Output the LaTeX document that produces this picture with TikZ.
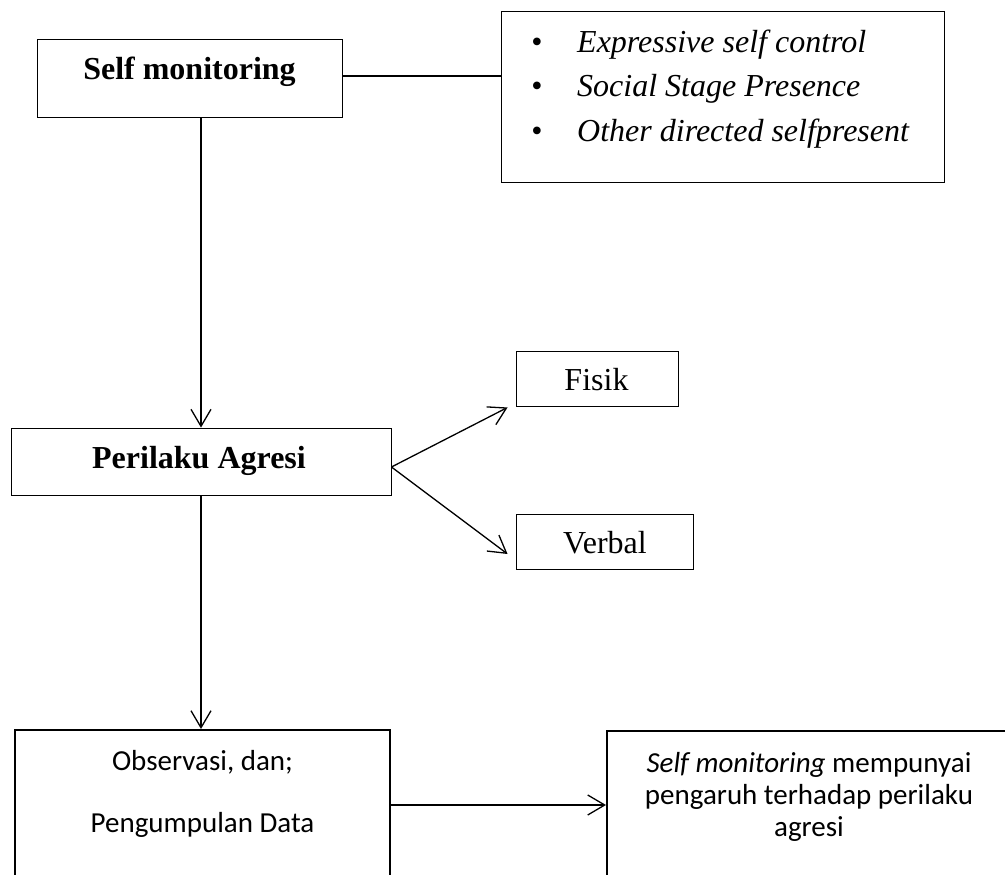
\documentclass[tikz,border=0pt]{standalone}
\usepackage{fontspec}
\setmainfont{Liberation Serif}
\newfontfamily\calfont{Carlito}
\usetikzlibrary{arrows.meta,calc}
\begin{document}
\begin{tikzpicture}[x=1pt,y=-1pt,
  thinbox/.style={draw=black,line width=0.9pt,inner sep=0pt},
  thickbox/.style={draw=black,line width=2pt,inner sep=0pt},
  conn/.style={line width=1.3pt},
  arr/.style={conn,-{Straight Barb[length=17pt,width=20pt,line width=1.3pt]}},
  tnr/.style={font=\fontsize{32}{38}\selectfont,inner sep=0pt,anchor=base},
  tnrb/.style={font=\bfseries\fontsize{32}{38}\selectfont,inner sep=0pt,anchor=base},
  tnri/.style={font=\itshape\fontsize{32}{38}\selectfont,inner sep=0pt,anchor=base west},
  bul/.style={font=\fontsize{32}{38}\selectfont,inner sep=0pt,anchor=base},
  cal/.style={font=\calfont\fontsize{29}{33}\selectfont,inner sep=0pt,anchor=base}]
\useasboundingbox (0,0) rectangle (1005,875);
\clip (0,0) rectangle (1005,875);
% boxes
\node[thinbox,minimum width=305pt,minimum height=78pt] (sm) at (189.5,78) {};
\node[thinbox,minimum width=443pt,minimum height=171pt] (li) at (722.5,96.5) {};
\node[thinbox,minimum width=380pt,minimum height=67pt] (pa) at (201,461.5) {};
\node[thinbox,minimum width=162pt,minimum height=55pt] (fi) at (597,378.5) {};
\node[thinbox,minimum width=177pt,minimum height=55pt] (ve) at (604.5,541.5) {};
\node[thickbox,minimum width=375pt,minimum height=150pt] (ob) at (202.5,805) {};
\node[thickbox,minimum width=408pt,minimum height=148pt] (hs) at (811,805) {};
% texts
\node[tnrb] (smt) at (189.5,80) {Self monitoring};
\node[bul] (b1) at (537,53) {\textbullet};
\node[bul] (b2) at (537,97) {\textbullet};
\node[bul] (b3) at (537,142) {\textbullet};
\node[tnri] (l1) at (577,53) {Expressive self control};
\node[tnri] (l2) at (577,97) {Social Stage Presence};
\node[tnri] (l3) at (577,142) {Other directed selfpresent};
\node[tnrb] (pat) at (199,468) {Perilaku Agresi};
\node[tnr] (fit) at (596.5,390) {Fisik};
\node[tnr] (vet) at (605,553) {Verbal};
\node[cal] (ob1) at (202.5,770) {Observasi, dan;};
\node[cal] (ob2) at (202.5,832) {Pengumpulan Data};
\node[cal] (hs1) at (809,772) {\textit{Self monitoring} mempunyai};
\node[cal] (hs2) at (809,804) {pengaruh terhadap perilaku};
\node[cal] (hs3) at (809,836) {agresi};
% connectors
\draw[conn] ([yshift=2pt]sm.east) -- ([yshift=2pt]sm.east -| li.west);
\draw[arr] (sm.south -| pa.north) -- (pa.north);
\coordinate (fork) at ([yshift=-5.5pt]pa.east);
\draw[arr] (fork) -- ([xshift=-8pt,yshift=-1pt]fi.south west);
\draw[arr] (fork) -- ([xshift=-8pt,yshift=-12.5pt]ve.west);
\draw[arr] (pa.south) -- (pa.south |- ob.north);
\draw[arr] (ob.east) -- (hs.west);
\end{tikzpicture}
\end{document}
